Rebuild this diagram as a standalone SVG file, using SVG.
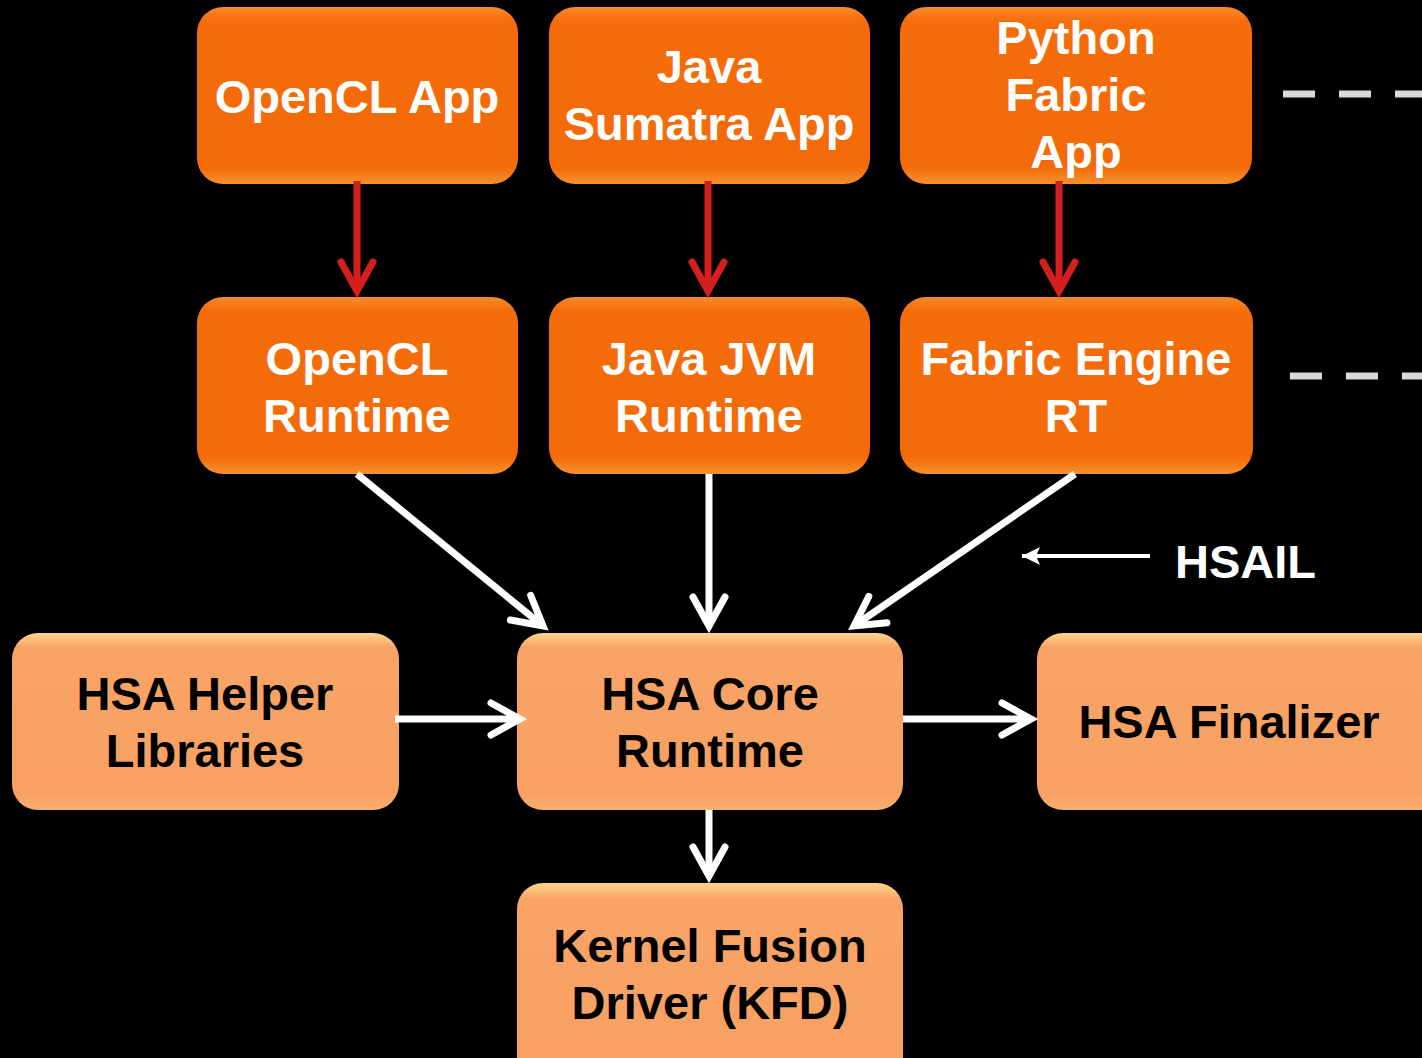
<svg xmlns="http://www.w3.org/2000/svg" width="1422" height="1058" viewBox="0 0 1422 1058">
<style>
.top{fill:url(#gTop)}
.bot{fill:url(#gBot)}
.tw{font-family:"Liberation Sans",Arial,sans-serif;font-weight:bold;font-size:47px;fill:#ffffff;text-anchor:middle}
.tb{font-family:"Liberation Sans",Arial,sans-serif;font-weight:bold;font-size:47px;fill:#000000;text-anchor:middle}
.red{stroke:#d41f1f;stroke-width:7;fill:none}
.wht{stroke:#ffffff;stroke-width:7;fill:none}
.dash{stroke:#d9d9d9;stroke-width:7;stroke-dasharray:32 24;fill:none}
</style>
<defs>
<linearGradient id="gTop" x1="0" y1="0" x2="0" y2="1">
<stop offset="0" stop-color="#f98a2c"/>
<stop offset="0.08" stop-color="#f56c0a"/>
<stop offset="0.9" stop-color="#f46a08"/>
<stop offset="1" stop-color="#f6902e"/>
</linearGradient>
<linearGradient id="gBot" x1="0" y1="0" x2="0" y2="1">
<stop offset="0" stop-color="#fdd68c"/>
<stop offset="0.08" stop-color="#f8a466"/>
<stop offset="0.9" stop-color="#f7a062"/>
<stop offset="1" stop-color="#f9b070"/>
</linearGradient>
<marker id="chevR" markerUnits="userSpaceOnUse" orient="auto" overflow="visible" refX="0" refY="0" markerWidth="40" markerHeight="40">
<path d="M-29,-16 L0,0 L-29,16" fill="none" stroke="#d41f1f" stroke-width="7" stroke-linecap="round" stroke-linejoin="miter"/>
</marker>
<marker id="chevW" markerUnits="userSpaceOnUse" orient="auto" overflow="visible" refX="0" refY="0" markerWidth="40" markerHeight="40">
<path d="M-29,-16 L0,0 L-29,16" fill="none" stroke="#ffffff" stroke-width="7" stroke-linecap="round" stroke-linejoin="miter"/>
</marker>
<marker id="triW" markerUnits="userSpaceOnUse" orient="auto" overflow="visible" refX="0" refY="0" markerWidth="30" markerHeight="30">
<path d="M-18,-9 L0,0 L-18,9 L-14,0 Z" fill="#ffffff"/>
</marker>
</defs>
<rect width="1422" height="1058" fill="#000000"/>

<g id="opencl-app"><rect class="top" x="197" y="7" width="321" height="177" rx="26"/><text class="tw" x="357" y="113">OpenCL App</text></g>
<g id="java-sumatra-app"><rect class="top" x="549" y="7" width="321" height="177" rx="26"/><text class="tw" x="709" y="83">Java</text><text class="tw" x="709" y="140">Sumatra App</text></g>
<g id="python-fabric-app"><rect class="top" x="900" y="7" width="352" height="177" rx="26"/><text class="tw" x="1076" y="54">Python</text><text class="tw" x="1076" y="111">Fabric</text><text class="tw" x="1076" y="168">App</text></g>

<g id="opencl-runtime"><rect class="top" x="197" y="297" width="321" height="177" rx="26"/><text class="tw" x="357" y="375">OpenCL</text><text class="tw" x="357" y="432">Runtime</text></g>
<g id="java-jvm-runtime"><rect class="top" x="549" y="297" width="321" height="177" rx="26"/><text class="tw" x="709" y="375">Java JVM</text><text class="tw" x="709" y="432">Runtime</text></g>
<g id="fabric-engine-rt"><rect class="top" x="900" y="297" width="353" height="177" rx="26"/><text class="tw" x="1076" y="375">Fabric Engine</text><text class="tw" x="1076" y="432">RT</text></g>

<g id="hsa-helper"><rect class="bot" x="12" y="633" width="387" height="177" rx="26"/><text class="tb" x="205" y="710">HSA Helper</text><text class="tb" x="205" y="767">Libraries</text></g>
<g id="hsa-core"><rect class="bot" x="517" y="633" width="386" height="177" rx="26"/><text class="tb" x="710" y="710">HSA Core</text><text class="tb" x="710" y="767">Runtime</text></g>
<g id="hsa-finalizer"><rect class="bot" x="1037" y="633" width="410" height="177" rx="26"/><text class="tb" x="1229" y="738">HSA Finalizer</text></g>
<g id="kfd"><rect class="bot" x="517" y="883" width="386" height="200" rx="26"/><text class="tb" x="710" y="962">Kernel Fusion</text><text class="tb" x="710" y="1019">Driver (KFD)</text></g>

<g id="hsail-label"><text x="1175" y="578" font-family="Liberation Sans,Arial,sans-serif" font-weight="bold" font-size="47" fill="#ffffff">HSAIL</text></g>

<g id="connectors">
<line class="red" x1="357" y1="181" x2="357" y2="291" marker-end="url(#chevR)"/>
<line class="red" x1="708" y1="181" x2="708" y2="291" marker-end="url(#chevR)"/>
<line class="red" x1="1059" y1="181" x2="1059" y2="291" marker-end="url(#chevR)"/>
<line class="wht" x1="357" y1="474" x2="543" y2="626" marker-end="url(#chevW)"/>
<line class="wht" x1="709" y1="474" x2="709" y2="626" marker-end="url(#chevW)"/>
<line class="wht" x1="1075" y1="474" x2="854" y2="626" marker-end="url(#chevW)"/>
<line class="wht" x1="395" y1="719" x2="520" y2="719" marker-end="url(#chevW)"/>
<line class="wht" x1="903" y1="719" x2="1031" y2="719" marker-end="url(#chevW)"/>
<line class="wht" x1="709" y1="810" x2="709" y2="876" marker-end="url(#chevW)"/>
<line x1="1150" y1="556" x2="1022" y2="556" stroke="#ffffff" stroke-width="4" marker-end="url(#triW)"/>
<line class="dash" x1="1283" y1="94" x2="1422" y2="94"/>
<line class="dash" x1="1290" y1="376" x2="1422" y2="376"/>
</g>
</svg>
